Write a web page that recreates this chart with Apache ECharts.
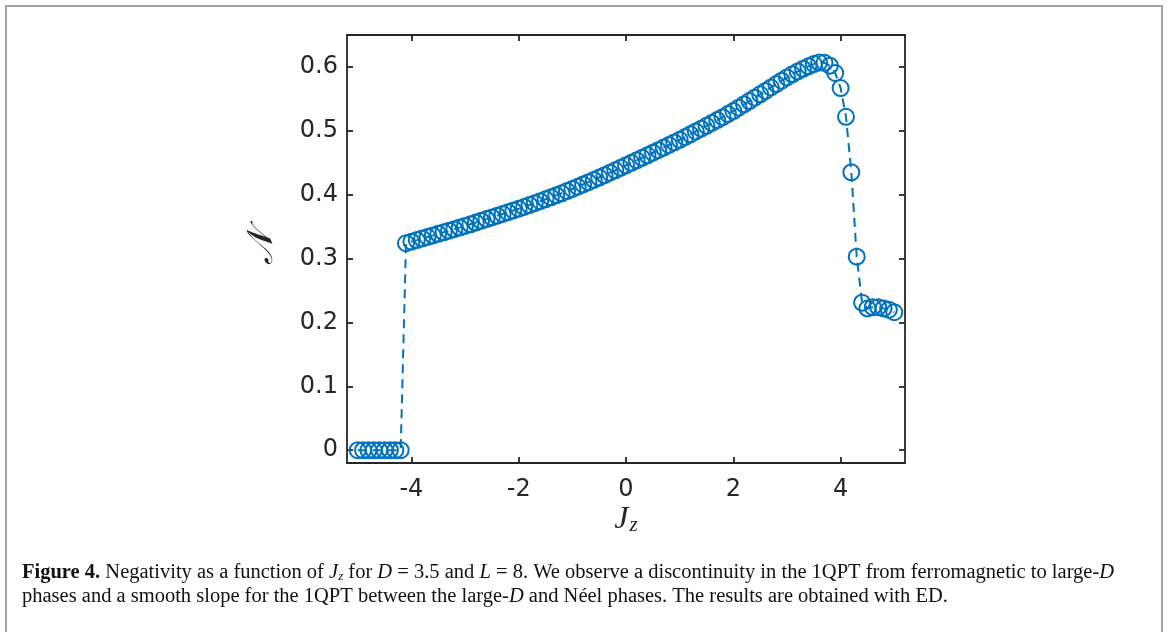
<!DOCTYPE html>
<html>
<head>
<meta charset="utf-8">
<script src="https://cdn.jsdelivr.net/npm/echarts@6/dist/echarts.min.js"></script>
<style>
html,body{margin:0;padding:0;background:#fff;}
#chart{width:1168px;height:632px;}
</style>
</head>
<body>
<div id="chart"></div>
<script>
const jzValues = [
  -5.0,-4.9,-4.8,-4.7,-4.6,-4.5,-4.4,-4.3,-4.2,
  -4.1,-4.0,-3.9,-3.8,-3.7,-3.6,-3.5,-3.4,-3.3,-3.2,-3.1,-3.0,
  -2.9,-2.8,-2.7,-2.6,-2.5,-2.4,-2.3,-2.2,-2.1,-2.0,
  -1.9,-1.8,-1.7,-1.6,-1.5,-1.4,-1.3,-1.2,-1.1,-1.0,
  -0.9,-0.8,-0.7,-0.6,-0.5,-0.4,-0.3,-0.2,-0.1,0.0,
  0.1,0.2,0.3,0.4,0.5,0.6,0.7,0.8,0.9,1.0,
  1.1,1.2,1.3,1.4,1.5,1.6,1.7,1.8,1.9,2.0,
  2.1,2.2,2.3,2.4,2.5,2.6,2.7,2.8,2.9,3.0,
  3.1,3.2,3.3,3.4,3.5,3.6,3.7,3.8,3.9,4.0,
  4.1,4.2,4.3,4.4,4.5,4.6,4.7,4.8,4.9,5.0
];
const negativityValues = [
  0,0,0,0,0,0,0,0,0,
  0.3240,0.3265,0.3289,0.3314,0.3338,0.3363,0.3387,0.3412,0.3436,0.3461,0.3485,0.3510,
  0.3537,0.3564,0.3591,0.3618,0.3645,0.3672,0.3699,0.3726,0.3753,0.3780,
  0.3809,0.3838,0.3868,0.3898,0.3928,0.3959,0.3990,0.4022,0.4056,0.4090,
  0.4125,0.4160,0.4196,0.4232,0.4269,0.4306,0.4344,0.4382,0.4421,0.4460,
  0.4499,0.4538,0.4577,0.4617,0.4657,0.4697,0.4737,0.4778,0.4819,0.4860,
  0.4903,0.4946,0.4990,0.5034,0.5078,0.5123,0.5168,0.5214,0.5262,0.5310,
  0.5362,0.5414,0.5466,0.5519,0.5572,0.5625,0.5678,0.5731,0.5784,0.5835,
  0.5885,0.5930,0.5970,0.6010,0.6045,0.6068,0.6065,0.6020,0.5905,0.5670,
  0.522,0.435,0.303,0.231,0.222,0.224,0.224,0.222,0.220,0.216
];
const xTickValues = [-4,-2,0,2,4];
const yTickValues = [0,0.1,0.2,0.3,0.4,0.5,0.6];

const axisColor = '#262626';
const blue = '#0072BD';

const chart = echarts.init(document.getElementById('chart'), null, {renderer:'canvas'});
const data = jzValues.map((x,i)=>[x, negativityValues[i]]);

function xAxisDef(pos, showLabel){
  return {
    type:'value', position:pos, min:-5.2, max:5.2,
    axisLine:{show:true, onZero:false, lineStyle:{color:axisColor, width:1.8}},
    axisTick:{show:true, inside:true, length:6, customValues:xTickValues, lineStyle:{color:axisColor, width:1.8}},
    axisLabel:{show:showLabel, customValues:xTickValues, color:axisColor, fontFamily:'DejaVu Sans', fontSize:24, margin:15},
    splitLine:{show:false}
  };
}
function yAxisDef(pos, showLabel){
  return {
    type:'value', position:pos, min:-0.02, max:0.65,
    axisLine:{show:true, onZero:false, lineStyle:{color:axisColor, width:1.8}},
    axisTick:{show:true, inside:true, length:6, customValues:yTickValues, lineStyle:{color:axisColor, width:1.8}},
    axisLabel:{show:showLabel, customValues:yTickValues, color:axisColor, fontFamily:'DejaVu Sans', fontSize:24, margin:9},
    splitLine:{show:false}
  };
}

const serif = '"Liberation Serif", "DejaVu Serif", serif';
const capSize = 20.5;

const option = {
  animation:false,
  backgroundColor:'#ffffff',
  grid:{left:347, top:35, width:558, height:428, containLabel:false},
  xAxis:[xAxisDef('bottom', true), xAxisDef('top', false)],
  yAxis:[yAxisDef('left', true), yAxisDef('right', false)],
  series:[{
    type:'line', xAxisIndex:0, yAxisIndex:0,
    data:data,
    symbol:'circle', symbolSize:16, showAllSymbol:true,
    itemStyle:{color:'transparent', borderColor:blue, borderWidth:2},
    lineStyle:{color:blue, width:2, type:[9,6]},
    emphasis:{disabled:true},
    clip:false
  }],
  graphic:[
    {type:'rect', shape:{x:6, y:6, width:1156, height:700}, style:{fill:'none', stroke:'#a3a3a3', lineWidth:2}, silent:true},
    {type:'text', x:263, y:248, rotation:Math.PI/2,
      style:{text:'𝒩', font:'italic 36px "DejaVu Serif", "Noto Sans", serif', fill:axisColor, align:'center', verticalAlign:'middle', textAlign:'center', textVerticalAlign:'middle'}},
    {type:'text', x:626, y:520,
      style:{text:'{i|J}{s|z}', fill:axisColor, align:'center', verticalAlign:'middle', textAlign:'center', textVerticalAlign:'middle',
        rich:{i:{font:'italic 32px "Liberation Serif", serif', fill:axisColor, verticalAlign:'middle'},
              s:{font:'italic 21px "Liberation Serif", serif', fill:axisColor, verticalAlign:'bottom', padding:[0,0,0,1]}}}},
    {type:'text', x:22, y:573,
      style:{text:'{b|Figure 4.} Negativity as a function of {i|J}{s|z} for {i|D} = 3.5 and {i|L} = 8. We observe a discontinuity in the 1QPT from ferromagnetic to large-{i|D}',
        font:capSize+'px '+serif, fill:'#111', align:'left', verticalAlign:'middle', textAlign:'left', textVerticalAlign:'middle',
        rich:{b:{font:'bold '+capSize+'px '+serif, fill:'#111'}, i:{font:'italic '+capSize+'px '+serif, fill:'#111'}, s:{font:'italic 13px '+serif, fill:'#111', verticalAlign:'bottom'}}}},
    {type:'text', x:22, y:597,
      style:{text:'phases and a smooth slope for the 1QPT between the large-{i|D} and Néel phases. The results are obtained with ED.',
        font:capSize+'px '+serif, fill:'#111', align:'left', verticalAlign:'middle', textAlign:'left', textVerticalAlign:'middle',
        rich:{i:{font:'italic '+capSize+'px '+serif, fill:'#111'}}}}
  ]
};
chart.setOption(option);
</script>
</body>
</html>
